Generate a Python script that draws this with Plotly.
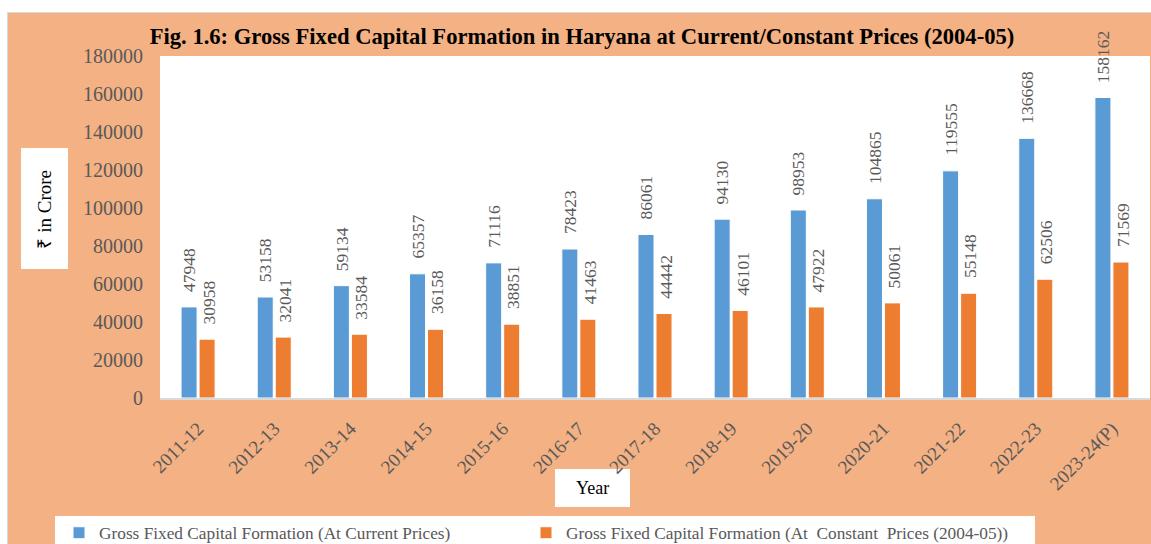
import plotly.graph_objects as go

# ---- data ----
years = ["2011-12", "2012-13", "2013-14", "2014-15", "2015-16", "2016-17", "2017-18",
         "2018-19", "2019-20", "2020-21", "2021-22", "2022-23", "2023-24(P)"]
current_prices = [47948, 53158, 59134, 65357, 71116, 78423, 86061,
                  94130, 98953, 104865, 119555, 136668, 158162]
constant_prices = [30958, 32041, 33584, 36158, 38851, 41463, 44442,
                   46101, 47922, 50061, 55148, 62506, 71569]
y_ticks = [0, 20000, 40000, 60000, 80000, 100000, 120000, 140000, 160000, 180000]

name_current = "Gross Fixed Capital Formation (At Current Prices)"
name_constant = "Gross Fixed Capital Formation (At  Constant  Prices (2004-05))"
title_text = "Fig. 1.6: Gross Fixed Capital Formation in Haryana at Current/Constant Prices (2004-05)"

# ---- layout geometry (pixels) ----
W, H = 1151, 544
L, R, T, B = 160, 1150, 56, 398
PEACH = "#F4B183"
GRAY_TXT = "#595959"
FONT = "Liberation Serif"


def px(x):
    return (x - L) / (R - L)


def py(y):
    return (B - y) / (B - T)


fig = go.Figure()
fig.add_trace(go.Bar(x=years, y=current_prices, name=name_current, legend="legend",
                     marker=dict(color="#5B9BD5", line=dict(color="white", width=1))))
fig.add_trace(go.Bar(x=years, y=constant_prices, name=name_constant, legend="legend2",
                     marker=dict(color="#ED7D31", line=dict(color="white", width=1))))

LABEL_SIZE = 17.5
annotations = []
for series, shift in ((current_prices, -9), (constant_prices, 11)):
    for yr, v in zip(years, series):
        txt = str(v)
        annotations.append(dict(x=yr, y=v, xref="x", yref="y", text=txt,
                                showarrow=False, textangle=-90, xanchor="center",
                                yanchor="middle", xshift=shift,
                                yshift=15 + len(txt) * LABEL_SIZE * 0.5 / 2,
                                font=dict(family=FONT, size=LABEL_SIZE, color=GRAY_TXT)))

# axis title texts
annotations.append(dict(x=px(44.5), y=py(209), xref="paper", yref="paper",
                        text="₹ in Crore", showarrow=False, textangle=-90,
                        xanchor="center", yanchor="middle",
                        font=dict(family=FONT, size=19, color="black")))
annotations.append(dict(x=px(592.5), y=py(488), xref="paper", yref="paper",
                        text="Year", showarrow=False, xanchor="center", yanchor="middle",
                        font=dict(family=FONT, size=18, color="black")))

shapes = [
    dict(type="rect", xref="paper", yref="paper", layer="below",
         x0=px(7.5), x1=px(W + 20), y0=py(H + 20), y1=py(12.5),
         fillcolor=PEACH, line=dict(color="#D9D9D9", width=1)),
    dict(type="rect", xref="paper", yref="paper", layer="below",
         x0=0, x1=1, y0=0, y1=1, fillcolor="white", line=dict(width=0)),
    dict(type="rect", xref="paper", yref="paper", layer="below",
         x0=px(21), x1=px(68), y0=py(269), y1=py(148), fillcolor="white", line=dict(width=0)),
    dict(type="rect", xref="paper", yref="paper", layer="below",
         x0=px(555), x1=px(630), y0=py(507), y1=py(469), fillcolor="white", line=dict(width=0)),
    dict(type="rect", xref="paper", yref="paper", layer="below",
         x0=px(55), x1=px(1035), y0=py(H + 20), y1=py(516), fillcolor="white", line=dict(width=0)),
]

legend_common = dict(orientation="h", yanchor="middle", bgcolor="rgba(0,0,0,0)",
                     font=dict(family=FONT, size=17.3, color=GRAY_TXT))

fig.update_layout(
    width=W, height=H, autosize=False,
    margin=dict(l=L, r=W - R, t=T, b=H - B, pad=0, autoexpand=False),
    paper_bgcolor="white", plot_bgcolor="white",
    barmode="group", bargap=0.527, bargroupgap=0.11,
    title=dict(text=title_text, x=px(582), xref="paper", xanchor="center",
               y=1 - 36 / H, yref="container", yanchor="middle",
               font=dict(family=FONT, size=22.6, color="black", weight="bold")),
    font=dict(family=FONT, color=GRAY_TXT),
    showlegend=True,
    legend=dict(x=px(59), xanchor="left", y=py(533), **legend_common),
    legend2=dict(x=px(526), xanchor="left", y=py(533), **legend_common),
    xaxis=dict(type="category", tickangle=-45, showgrid=False, ticks="",
               showline=True, linecolor="#D9D9D9", linewidth=2,
               tickfont=dict(family=FONT, size=19, color=GRAY_TXT), ticklabelstandoff=10),
    yaxis=dict(range=[0, 180000], tickvals=y_ticks, ticktext=[str(v) for v in y_ticks],
               showgrid=False, zeroline=False, showline=False, ticks="",
               tickfont=dict(family=FONT, size=20, color=GRAY_TXT), ticklabelstandoff=16),
    annotations=annotations,
    shapes=shapes,
)

# remove the default page margin / scrollbars so the figure fills the window exactly
fig.write_html(
    "out.html",
    config={"responsive": False, "displayModeBar": False},
    post_script="document.body.style.margin='0';document.body.style.overflow='hidden';",
)
